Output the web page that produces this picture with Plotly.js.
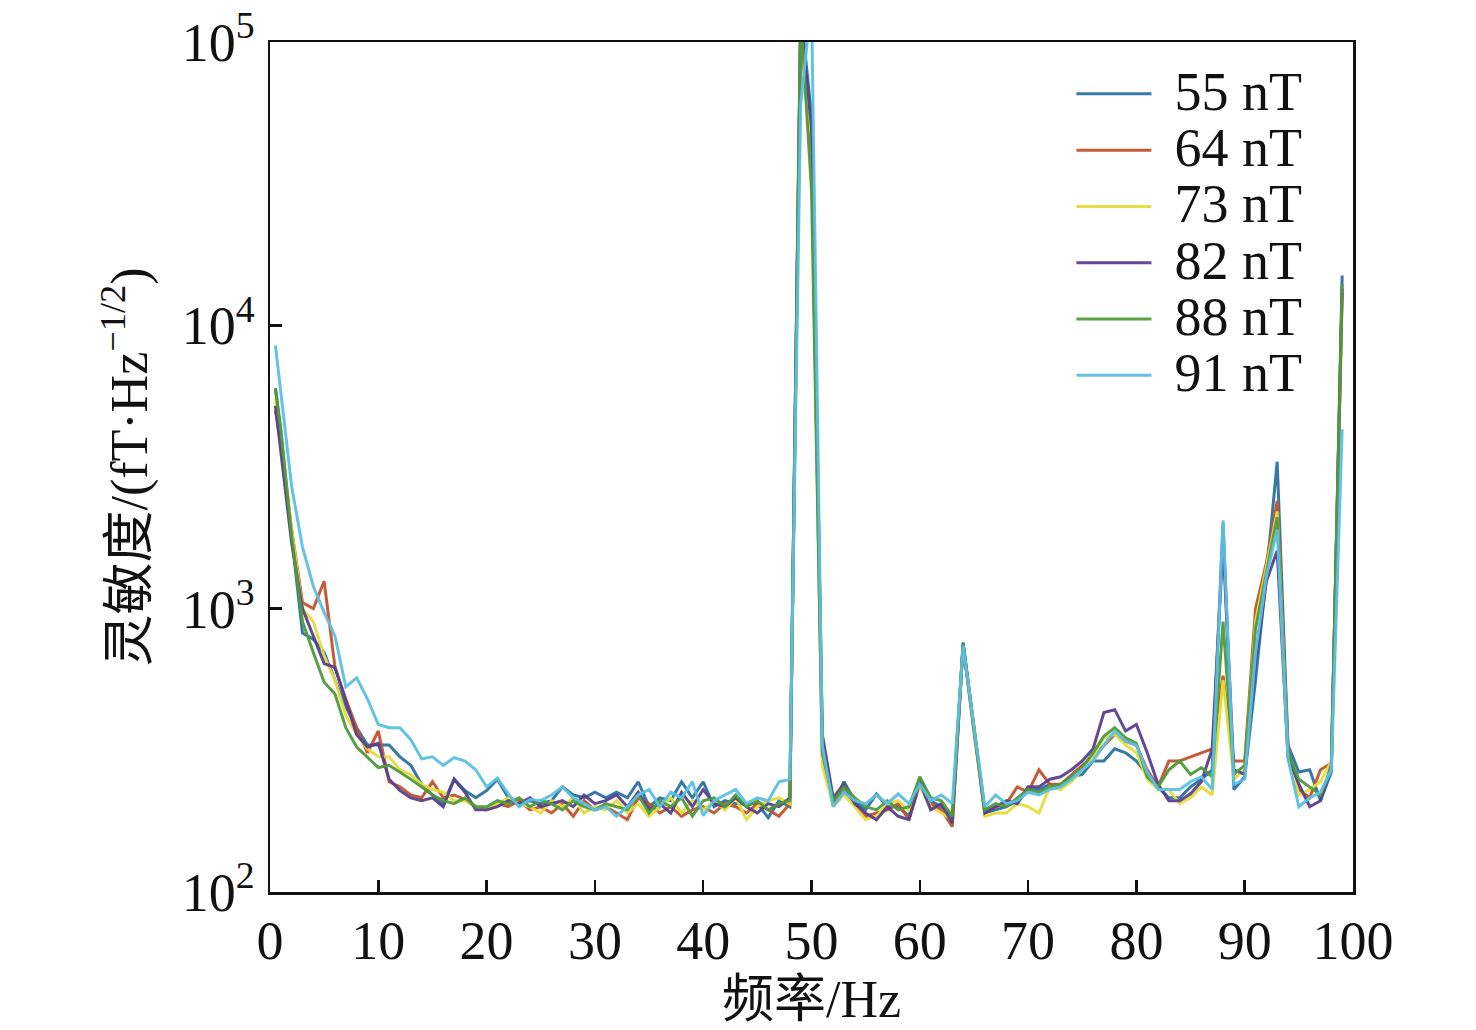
<!DOCTYPE html>
<html>
<head>
<meta charset="utf-8">
<script src="https://cdn.plot.ly/plotly-3.0.1.min.js"></script>
<style>
  html, body { margin: 0; padding: 0; background: #fff; }
  #chart { width: 1476px; height: 1030px; }
</style>
</head>
<body>
<div id="chart"></div>
<script>
// frequency axis, Hz
var freq = [0.5, 1, 2, 3, 4, 5, 6, 7, 8, 9, 10,
  11, 12, 13, 14, 15, 16, 17, 18, 19, 20,
  21, 22, 23, 24, 25, 26, 27, 28, 29, 30,
  31, 32, 33, 34, 35, 36, 37, 38, 39, 40,
  41, 42, 43, 44, 45, 46, 47, 48, 49, 50,
  51, 52, 53, 54, 55, 56, 57, 58, 59, 60,
  61, 62, 63, 64, 65, 66, 67, 68, 69, 70,
  71, 72, 73, 74, 75, 76, 77, 78, 79, 80,
  81, 82, 83, 84, 85, 86, 87, 88, 89, 90,
  91, 92, 93, 94, 95, 96, 97, 98, 99];

// sensitivity, fT/Hz^1/2
var s55 = [6000, 4200, 1800, 820, 780, 700, 560, 450, 380, 330, 330,
  330, 300, 280, 240, 220, 205, 250, 228, 215, 228,
  250, 215, 208, 210, 205, 210, 235, 220, 215, 225,
  215, 225, 215, 245, 200, 215, 210, 245, 215, 245,
  200, 210, 205, 205, 205, 183, 210, 200, 130000, 55000,
  340, 205, 245, 210, 195, 222, 200, 200, 185, 250,
  210, 200, 185, 760, 380, 190, 195, 200, 210, 230,
  230, 240, 235, 255, 260, 290, 290, 320, 310, 290,
  260, 235, 215, 215, 235, 250, 270, 2000, 230, 255,
  560, 1300, 3300, 330, 265, 270, 210, 265, 15000];

var s64 = [5000, 3800, 1900, 1050, 1000, 1250, 620, 480, 380, 310, 370,
  245, 235, 220, 215, 245, 215, 220, 212, 200, 195,
  205, 200, 210, 195, 200, 190, 205, 185, 210, 195,
  200, 190, 180, 215, 205, 190, 200, 185, 195, 200,
  190, 205, 200, 190, 205, 195, 185, 205, 110000, 40000,
  300, 210, 230, 205, 185, 190, 195, 205, 180, 240,
  205, 195, 170, 740, 370, 195, 200, 205, 235, 225,
  270, 240, 240, 260, 280, 300, 330, 360, 340, 330,
  270, 235, 290, 290, 300, 310, 320, 580, 290, 290,
  1000, 1450, 2400, 320, 230, 215, 270, 285, 13000];

var s73 = [5500, 4000, 1900, 1000, 900, 680, 560, 420, 360, 320, 300,
  300, 270, 260, 240, 230, 225, 210, 210, 200, 195,
  205, 215, 205, 200, 190, 210, 200, 215, 190, 200,
  195, 210, 190, 205, 185, 200, 215, 190, 210, 195,
  210, 195, 215, 180, 200, 210, 215, 205, 105000, 45000,
  280, 200, 220, 200, 180, 185, 205, 210, 195, 235,
  200, 190, 180, 745, 375, 185, 190, 190, 205, 200,
  190, 235, 230, 245, 270, 300, 350, 360, 330, 310,
  250, 230, 230, 205, 215, 235, 220, 560, 250, 270,
  900, 1400, 2200, 300, 220, 230, 245, 290, 12000];

var s82 = [5200, 3600, 1700, 1000, 800, 640, 620, 470, 360, 325, 335,
  250, 228, 215, 210, 215, 200, 250, 225, 195, 195,
  200, 210, 205, 215, 200, 205, 210, 200, 220, 205,
  210, 220, 200, 225, 195, 205, 190, 225, 200, 230,
  205, 200, 215, 200, 190, 205, 200, 215, 120000, 50000,
  360, 215, 240, 205, 190, 180, 200, 185, 180, 245,
  195, 205, 175, 750, 375, 190, 200, 210, 205, 235,
  235, 250, 255, 270, 290, 320, 430, 440, 370, 390,
  310, 240, 210, 210, 222, 245, 320, 1700, 270, 260,
  650, 1250, 1600, 300, 240, 200, 210, 280, 13500];

var s88 = [6000, 4300, 1800, 900, 700, 550, 500, 380, 325, 300, 275,
  280, 265, 250, 235, 220, 210, 205, 215, 200, 200,
  210, 205, 215, 200, 210, 205, 195, 210, 200, 195,
  205, 200, 195, 220, 190, 210, 200, 215, 185, 210,
  215, 200, 220, 200, 210, 195, 205, 210, 125000, 30000,
  310, 210, 235, 215, 200, 195, 210, 195, 200, 255,
  215, 210, 185, 750, 380, 195, 205, 200, 215, 230,
  225, 235, 240, 255, 275, 310, 355, 380, 350, 335,
  255, 235, 270, 290, 260, 275, 255, 900, 260, 280,
  850, 1350, 2100, 310, 250, 235, 220, 275, 14000];

var s91 = [8500, 5800, 2700, 1650, 1200, 970, 800, 530, 570, 480, 390,
  380, 380, 345, 295, 300, 280, 298, 290, 270, 235,
  252, 222, 200, 212, 210, 220, 235, 215, 205, 195,
  200, 185, 200, 220, 230, 200, 225, 215, 245, 186,
  210, 220, 230, 205, 215, 210, 245, 250, 60000, 140000,
  330, 200, 225, 210, 205, 220, 205, 222, 205, 240,
  210, 220, 205, 740, 385, 200, 220, 205, 210, 225,
  220, 230, 235, 250, 270, 290, 330, 370, 340, 330,
  265, 230, 230, 230, 245, 255, 230, 2050, 240, 250,
  700, 1300, 1900, 295, 200, 215, 225, 270, 4300];

var names = ['55 nT', '64 nT', '73 nT', '82 nT', '88 nT', '91 nT'];
var series = [s55, s64, s73, s82, s88, s91];
var colors = ['#2b72a0', '#c2532e', '#e6dc3c', '#5a3f8e', '#4f9a3c', '#5cc0e2'];

var yTickVals = [100, 1000, 10000, 100000];
var yTickText = ['10<sup>2</sup>', '10<sup>3</sup>', '10<sup>4</sup>', '10<sup>5</sup>'];
var xTickVals = [0, 10, 20, 30, 40, 50, 60, 70, 80, 90, 100];

var serif = '"Liberation Serif", "Times New Roman", "Noto Sans CJK SC", serif';

var data = [];
for (var i = 0; i < series.length; i++) {
    data.push({
        x: freq,
        y: series[i],
        mode: 'lines',
        type: 'scatter',
        // wider label with a small gap after the line sample
        name: '<span style="font-size:36px">\u2002</span><span style="font-size:54px">' + names[i] + '</span>',
        line: {color: colors[i], width: 3},
        opacity: 0.95
    });
}

var layout = {
    width: 1476,
    height: 1030,
    paper_bgcolor: '#ffffff',
    plot_bgcolor: '#ffffff',
    margin: {l: 270, r: 123, t: 42, b: 138},
    font: {family: serif, color: '#111', size: 50},
    showlegend: true,
    legend: {
        x: 0.74, y: 0.978, xanchor: 'left', yanchor: 'top',
        bgcolor: 'rgba(0,0,0,0)',
        font: {family: serif, size: 41, color: '#111'},
        itemwidth: 75,
        tracegroupgap: 0
    },
    xaxis: {
        range: [0, 100],
        tickvals: xTickVals,
        ticks: 'inside',
        ticklen: 12,
        tickwidth: 2.5,
        tickcolor: '#111',
        showline: true,
        linecolor: '#111',
        linewidth: 2.5,
        mirror: true,
        showgrid: false,
        zeroline: false,
        ticklabelstandoff: 0,
        tickfont: {family: serif, size: 54, color: '#111'},
        title: {text: '频率/Hz', font: {family: serif, size: 52, color: '#111'}, standoff: 6}
    },
    yaxis: {
        type: 'log',
        range: [2, 5],
        tickvals: yTickVals,
        ticktext: yTickText,
        ticks: 'inside',
        ticklen: 12,
        tickwidth: 2.5,
        tickcolor: '#111',
        showline: true,
        linecolor: '#111',
        linewidth: 2.5,
        mirror: true,
        showgrid: false,
        zeroline: false,
        ticklabelstandoff: 2,
        tickfont: {family: serif, size: 54, color: '#111'},
        title: {text: '灵敏度/(fT·Hz<sup>−1/2</sup>)', font: {family: serif, size: 52, color: '#111'}, standoff: 18}
    }
};

Plotly.newPlot('chart', data, layout, {staticPlot: true, displayModeBar: false});
</script>
</body>
</html>
